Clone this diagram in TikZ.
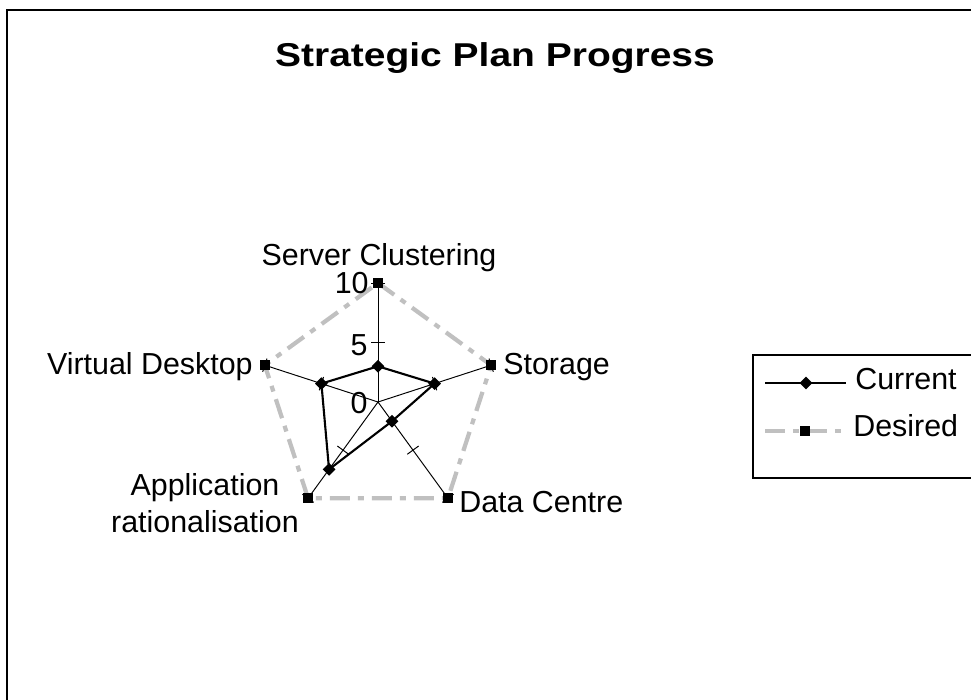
\documentclass[tikz,border=0pt]{standalone}
\usepackage{fontspec}
\setmainfont{Liberation Sans}
\usepackage{tikz}
\usetikzlibrary{calc,shapes.geometric}
\definecolor{desiredgrey}{RGB}{192,192,192}

\begin{document}
\begin{tikzpicture}[x=0.02cm,y=0.02cm,
  spoke/.style={black, line width=0.55pt},
  curline/.style={black, line width=1.2pt},
  desline/.style={desiredgrey, line width=2.4pt, dash pattern=on 0.4cm off 0.16cm on 0.12cm off 0.16cm},
  curmark/.style={diamond, fill=black, inner sep=0pt, minimum size=0.26cm},
  desmark/.style={rectangle, fill=black, inner sep=0pt, minimum size=0.2cm},
  lbl/.style={inner sep=0pt, font=\fontsize{17.3}{21.6}\selectfont}]
\useasboundingbox (0,0) rectangle (971,700);
% chart frame
\draw[line width=1.5pt] (7,-20) -- (7,690) -- (990,690);
\node[inner sep=0pt, anchor=base, font=\bfseries\fontsize{18.8}{22}\selectfont] (title) at (495,633) {\scalebox{1.18}[1]{Strategic Plan Progress}};
% spokes and ticks
\coordinate (o) at (378,298);
\foreach \ang/\nm/\val in {90/sc/3,18/st/5,-54/dc/2,-126/ar/7,162/vd/5}{
  \coordinate (\nm) at ($(o)+(\ang:119)$);
  \coordinate (c\nm) at ($(o)+(\ang:11.9*\val)$);
  \coordinate (t\nm) at ($(o)!0.5!(\nm)$);
  \draw[spoke] (o) -- (\nm);
  \draw[spoke] ($(t\nm)!0.14cm!90:(\nm)$) -- ($(t\nm)!0.14cm!-90:(\nm)$);
  \draw[spoke] ($(\nm)!0.14cm!90:(o)$) -- ($(\nm)!0.14cm!-90:(o)$);
}
% series
\draw[desline] (sc) -- (st) -- (dc) -- (ar) -- (vd) -- cycle;
\draw[curline] (csc) -- (cst) -- (cdc) -- (car) -- (cvd) -- cycle;
\foreach \nm in {sc,st,dc,ar,vd}{
  \node[desmark] (m\nm) at (\nm) {};
  \node[curmark] (mc\nm) at (c\nm) {};
}
% category labels
\node[lbl, anchor=base] (lsc) at (379,434) {Server Clustering};
\node[lbl, anchor=base west] (lst) at (503,325) {Storage};
\node[lbl, anchor=base west] (ldc) at (459,187) {Data Centre};
\node[lbl, anchor=base, align=center] (lar) at (205,167) {Application\\rationalisation};
\node[lbl, anchor=base east] (lvd) at (253,325) {Virtual Desktop};
% axis values
\node[lbl, anchor=east] (v10) at (369,417) {10};
\node[lbl, anchor=east] (v5) at (368,355) {5};
\node[lbl, anchor=east] (v0) at (368,297) {0};
% legend
\draw[line width=0.85pt] (753,222) rectangle (990,345);
\coordinate (cl1) at (765,317);
\coordinate (cl2) at (846,317);
\draw[spoke, line width=0.85pt] (cl1) -- (cl2);
\node[curmark] (lgc) at (806,317) {};
\node[lbl, anchor=base west] (tcur) at (855,310) {Current};
\coordinate (dl1) at (765,269);
\coordinate (dl2) at (846,269);
\draw[desline] (dl1) -- (dl2);
\node[desmark] (lgd) at (805,269) {};
\node[lbl, anchor=base west] (tdes) at (853,263) {Desired};
\end{tikzpicture}
\end{document}
